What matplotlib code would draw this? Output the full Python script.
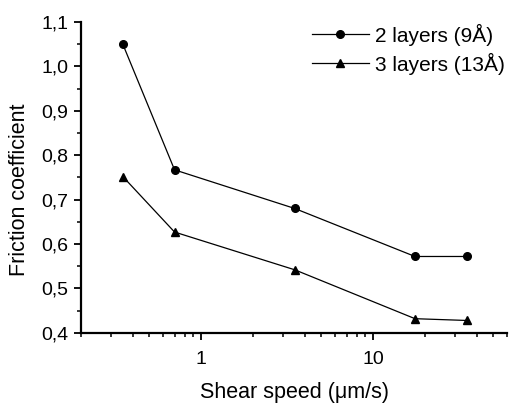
import matplotlib
matplotlib.use("Agg")
import matplotlib.pyplot as plt
from matplotlib.ticker import FuncFormatter, MultipleLocator, FixedLocator, LogLocator, NullFormatter

plt.rcParams['font.family'] = ['Liberation Sans', 'DejaVu Sans']

speed = [0.35, 0.7, 3.5, 17.5, 35]
mu_2layers = [1.05, 0.767, 0.68, 0.572, 0.572]
mu_3layers = [0.752, 0.627, 0.542, 0.432, 0.428]
labels = ["2 layers (9Å)", "3 layers (13Å)"]

fig = plt.figure(figsize=(5.19, 4.05), dpi=100)
ax = fig.add_axes([0.156, 0.178, 0.821, 0.768])

ax.plot(speed, mu_2layers, color='black', lw=0.9, marker='o', ms=5.5, label=labels[0])
ax.plot(speed, mu_3layers, color='black', lw=0.9, marker='^', ms=6, label=labels[1])

ax.set_xscale('log')
ax.set_xlim(0.2, 60)
ax.set_ylim(0.4, 1.1)

ax.xaxis.set_major_locator(FixedLocator([1, 10]))
ax.xaxis.set_major_formatter(FuncFormatter(lambda v, p: f"{v:g}"))
ax.xaxis.set_minor_locator(LogLocator(base=10, subs=range(2, 10)))
ax.xaxis.set_minor_formatter(NullFormatter())

ax.yaxis.set_major_locator(MultipleLocator(0.1))
ax.yaxis.set_minor_locator(MultipleLocator(0.05))
ax.yaxis.set_major_formatter(FuncFormatter(lambda v, p: f"{v:.1f}".replace('.', ',')))

for side in ('top', 'right'):
    ax.spines[side].set_visible(False)
for side in ('left', 'bottom'):
    ax.spines[side].set_linewidth(1.6)

ax.tick_params(which='major', direction='out', length=5, width=1.3, labelsize=14, pad=4)
ax.tick_params(axis='x', which='major', pad=8)
ax.tick_params(which='minor', direction='out', length=3, width=1.1)

ax.set_xlabel("Shear speed (\u03bcm/s)", fontsize=15.5, labelpad=10)
ax.set_ylabel("Friction coefficient", fontsize=15.5)
ax.yaxis.set_label_coords(-0.12, 0.46)

ax.legend(loc='upper right', bbox_to_anchor=(1.025, 1.035), frameon=False, fontsize=15,
          handlelength=2.75, handletextpad=0.3, labelspacing=0.34, borderaxespad=0.2)

fig.savefig("out.png", dpi=100)
